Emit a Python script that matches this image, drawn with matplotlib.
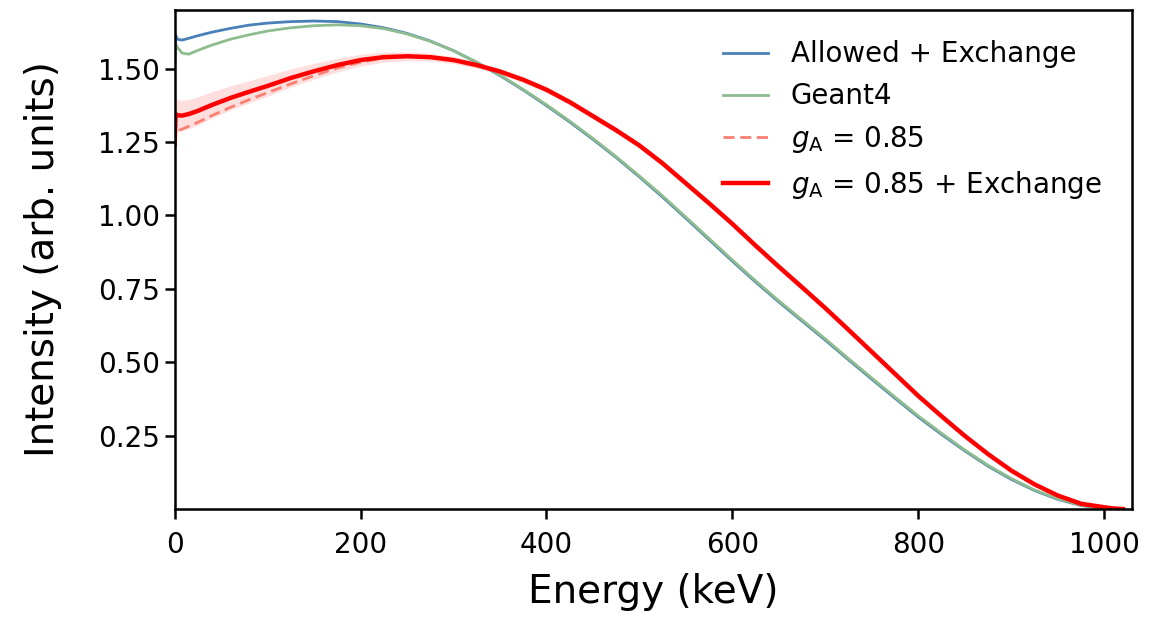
import numpy as np
import matplotlib
matplotlib.use("Agg")
import matplotlib.pyplot as plt

# energies (keV) and intensities
energy = [0, 1, 3, 8, 15, 25, 40, 60, 80, 100, 125, 150, 175, 200, 225, 250,
          275, 300, 325, 350, 375, 400, 425, 450, 475, 500, 525, 550, 575,
          600, 625, 650, 675, 700, 725, 750, 775, 800, 825, 850, 875, 900,
          925, 950, 975, 1000, 1010, 1020]

allowed_exch = [1.50, 1.615, 1.600, 1.597, 1.603, 1.612, 1.624, 1.637, 1.648,
                1.655, 1.660, 1.662, 1.660, 1.652, 1.639, 1.620, 1.594, 1.561,
                1.521, 1.476, 1.427, 1.374, 1.318, 1.259, 1.197, 1.131, 1.062,
                0.990, 0.917, 0.844, 0.773, 0.705, 0.640, 0.575, 0.508, 0.442,
                0.377, 0.313, 0.254, 0.198, 0.146, 0.101, 0.063, 0.033, 0.012,
                0.002, 0.0, 0.0]

geant4 = [1.52, 1.585, 1.572, 1.553, 1.549, 1.562, 1.580, 1.600, 1.615,
          1.628, 1.639, 1.646, 1.649, 1.646, 1.636, 1.618, 1.593, 1.561,
          1.522, 1.478, 1.429, 1.377, 1.321, 1.262, 1.200, 1.134, 1.066,
          0.994, 0.921, 0.848, 0.777, 0.709, 0.644, 0.579, 0.512, 0.446,
          0.381, 0.317, 0.258, 0.201, 0.149, 0.104, 0.065, 0.035, 0.013,
          0.002, 0.0, 0.0]

ga085 = [1.24, 1.282, 1.287, 1.294, 1.303, 1.317, 1.340, 1.368, 1.394,
         1.418, 1.448, 1.476, 1.502, 1.522, 1.536, 1.541, 1.539, 1.529,
         1.512, 1.490, 1.462, 1.428, 1.386, 1.338, 1.290, 1.238, 1.177,
         1.109, 1.041, 0.971, 0.897, 0.825, 0.755, 0.684, 0.610, 0.535,
         0.460, 0.385, 0.316, 0.249, 0.187, 0.131, 0.084, 0.046, 0.018,
         0.006, 0.002, 0.0]

ga085_exch = [1.24, 1.345, 1.341, 1.340, 1.345, 1.356, 1.376, 1.400, 1.421,
              1.441, 1.468, 1.491, 1.512, 1.529, 1.539, 1.542, 1.539, 1.529,
              1.512, 1.490, 1.462, 1.428, 1.386, 1.338, 1.290, 1.238, 1.177,
              1.109, 1.041, 0.971, 0.897, 0.825, 0.755, 0.684, 0.610, 0.535,
              0.460, 0.385, 0.316, 0.249, 0.187, 0.131, 0.084, 0.046, 0.018,
              0.006, 0.002, 0.0]

# half width of the shaded band around the red curve
ga085_err = [0.055, 0.055, 0.054, 0.052, 0.050, 0.048, 0.045, 0.041, 0.038,
             0.035, 0.031, 0.027, 0.023, 0.020, 0.017, 0.015, 0.013, 0.012,
             0.011, 0.010, 0.010, 0.010, 0.010, 0.010, 0.010, 0.010, 0.010,
             0.010, 0.010, 0.010, 0.010, 0.010, 0.010, 0.009, 0.009, 0.008,
             0.008, 0.007, 0.007, 0.006, 0.005, 0.005, 0.004, 0.003, 0.002,
             0.001, 0.0, 0.0]

E = np.array(energy)
red = np.array(ga085_exch)
err = np.array(ga085_err)

fig = plt.figure(figsize=(11.72, 6.17), dpi=100)
ax = fig.add_axes([0.149, 0.175, 0.817, 0.809])

ax.fill_between(E, red - err, red + err, color="red", alpha=0.13, lw=0)
ax.plot(E, allowed_exch, color="#4a80b8", lw=2.0, label="Allowed + Exchange")
ax.plot(E, geant4, color="#8fbc8f", lw=2.0, label="Geant4")
ax.plot(E, ga085, color="#fa8072", lw=2.0, ls=(0, (4, 2)), label=r"$g_\mathrm{A}$ = 0.85")
ax.plot(E, red, color="red", lw=3.2, label=r"$g_\mathrm{A}$ = 0.85 + Exchange")

ax.set_xlim(0, 1030)
ax.set_ylim(0, 1.70)
ax.set_xticks([0, 200, 400, 600, 800, 1000])
ax.set_yticks([0.25, 0.50, 0.75, 1.00, 1.25, 1.50])
ax.tick_params(axis="both", labelsize=20, length=7, width=1.8)
ax.tick_params(axis="x", pad=9)
for s in ax.spines.values():
    s.set_linewidth(1.8)

ax.set_xlabel("Energy (keV)", fontsize=28, labelpad=10)
ax.set_ylabel("Intensity (arb. units)", fontsize=28)
ax.yaxis.set_label_coords(-0.118, 0.5)

ax.legend(loc="upper right", frameon=False, fontsize=20, handlelength=1.65,
          handletextpad=0.8, labelspacing=0.5, borderaxespad=0.7)

fig.savefig("out.png", dpi=100)
